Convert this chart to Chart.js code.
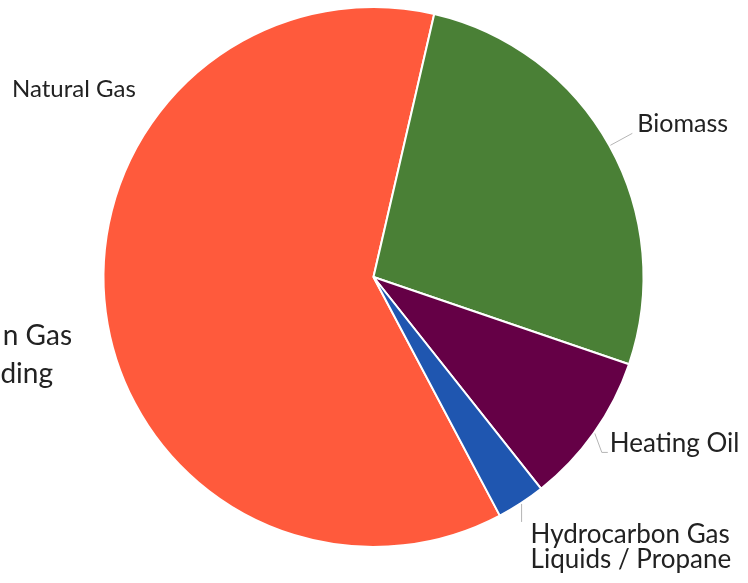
<!DOCTYPE html>
<html>
<head>
<meta charset="utf-8">
<script src="https://cdn.jsdelivr.net/npm/chart.js@4.4.1/dist/chart.umd.min.js"></script>
<style>
  html, body { margin: 0; padding: 0; background: #fff; }
  #wrap { width: 748px; height: 583px; }
</style>
</head>
<body>
<div id="wrap"><canvas id="pie-chart" width="748" height="583"></canvas></div>
<script>
// Datos del gráfico
var fuelLabels = ['Natural Gas', 'Biomass', 'Heating Oil', 'Hydrocarbon Gas Liquids / Propane'];
var fuelShares = [61.3, 26.6, 9.1, 2.9];
var fuelColors = ['#ff5a3c', '#4a8036', '#650046', '#1f56b0'];

// Etiquetas con líneas guía
var labelPlugin = {
    id: 'pieLabels',
    afterDatasetsDraw: function (chart, args, opts) {
        var ctx = chart.ctx;
        var arcs = chart.getDatasetMeta(0).data;
        ctx.save();
        ctx.fillStyle = '#222';
        ctx.textBaseline = 'alphabetic';
        opts.items.forEach(function (it, i) {
            var arc = arcs[i];
            var p = arc.getProps(['x', 'y', 'startAngle', 'endAngle', 'outerRadius']);
            var mid = (p.startAngle + p.endAngle) / 2;
            var sx = p.x + Math.cos(mid) * (p.outerRadius + 1);
            var sy = p.y + Math.sin(mid) * (p.outerRadius + 1);
            var tx, ty;
            if (it.path) {
                ctx.strokeStyle = '#b5b5b5';
                ctx.lineWidth = 1;
                ctx.beginPath();
                ctx.moveTo(sx, sy);
                var lx = sx, ly = sy;
                it.path.forEach(function (d) {
                    lx = sx + d[0];
                    ly = sy + d[1];
                    ctx.lineTo(lx, ly);
                });
                ctx.stroke();
                tx = lx + it.text[0];
                ty = ly + it.text[1];
            } else {
                tx = it.text[0];
                ty = it.text[1];
            }
            ctx.font = it.size + 'px Lato';
            ctx.textAlign = 'left';
            it.lines.forEach(function (line, k) {
                ctx.fillText(line, tx, ty + k * 25);
            });
        });
        // texto cortado en el borde izquierdo
        ctx.font = '28px Lato';
        ctx.textAlign = 'right';
        ctx.fillText('n Gas', 72, 345);
        ctx.fillText('ding', 53, 383);
        ctx.restore();
    }
};

var pieCtx = document.getElementById('pie-chart').getContext('2d');
var pieChart = new Chart(pieCtx, {
    type: 'pie',
    data: {
        labels: fuelLabels,
        datasets: [{
            data: fuelShares,
            backgroundColor: fuelColors,
            borderColor: '#ffffff',
            borderWidth: 2,
            hoverOffset: 0
        }]
    },
    options: {
        responsive: false,
        animation: false,
        rotation: 152.1,
        radius: 270,
        layout: { padding: { left: 0, right: 1, top: 0, bottom: 29 } },
        plugins: {
            legend: { display: false },
            tooltip: { enabled: false },
            pieLabels: {
                items: [
                    { lines: ['Natural Gas'], size: 24, text: [12, 97] },
                    { lines: ['Biomass'], size: 25, path: [[22, -12]], text: [5, -1] },
                    { lines: ['Heating Oil'], size: 26, path: [[7, 19], [13, 19]], text: [2, 0] },
                    { lines: ['Hydrocarbon Gas', 'Liquids / Propane'], size: 26, path: [[0, 18]], text: [9, 21] }
                ]
            }
        }
    },
    plugins: [labelPlugin]
});
</script>
</body>
</html>
